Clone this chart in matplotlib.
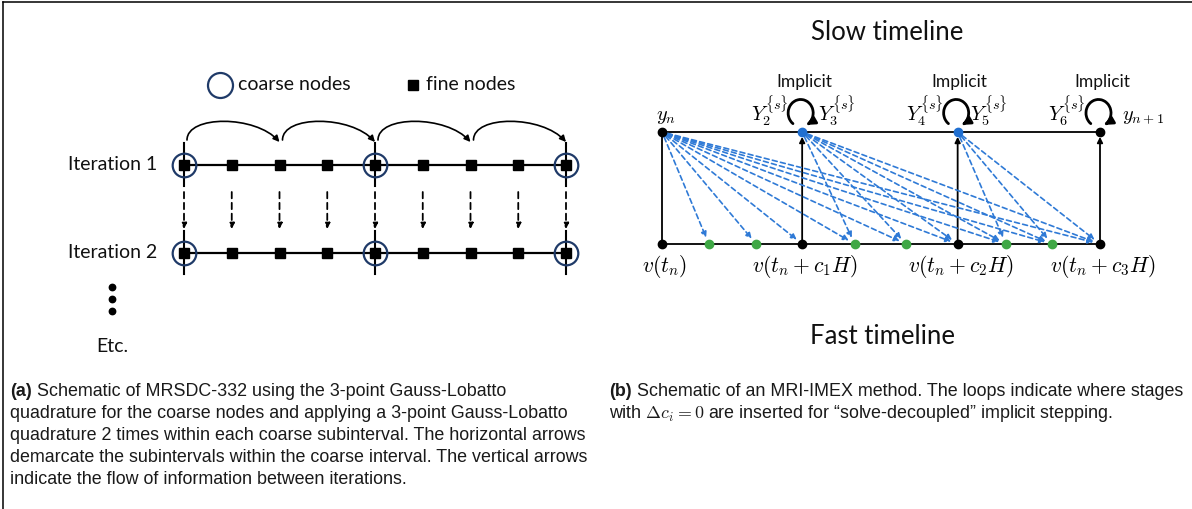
import matplotlib
matplotlib.use("Agg")
import matplotlib.pyplot as plt
from matplotlib.patches import FancyArrowPatch
from matplotlib.path import Path
from matplotlib.transforms import Affine2D, ScaledTranslation
from matplotlib.lines import Line2D

plt.rcParams["mathtext.fontset"] = "cm"

# ---------------- data ----------------
# Panel (a): MRSDC-332 (nodes on the normalised coarse interval)
fine_nodes = [0.0, 0.125, 0.25, 0.375, 0.5, 0.625, 0.75, 0.875, 1.0]
coarse_nodes = [0.0, 0.5, 1.0]
subinterval_bounds = [0.0, 0.25, 0.5, 0.75, 1.0]
iterations = [1, 2]
iteration_labels = ["Iteration 1", "Iteration 2"]
legend_labels = ["coarse nodes", "fine nodes"]

# Panel (b): MRI-IMEX (normalised slow step)
slow_nodes = [0.0, 0.32, 0.675, 1.0]
fast_nodes = [0.107, 0.215, 0.44, 0.557, 0.785, 0.89]
implicit_nodes = [0.32, 0.675, 1.0]
stage_left_labels = [r"$Y_2^{\{s\}}$", r"$Y_4^{\{s\}}$", r"$Y_6^{\{s\}}$"]
stage_right_labels = [r"$Y_3^{\{s\}}$", r"$Y_5^{\{s\}}$", r"$y_{n+1}$"]
bottom_labels = [r"$v(t_n)$", r"$v(t_n+c_1H)$", r"$v(t_n+c_2H)$", r"$v(t_n+c_3H)$"]

caption_a = ["Schematic of MRSDC-332 using the 3-point Gauss-Lobatto",
             "quadrature for the coarse nodes and applying a 3-point Gauss-Lobatto",
             "quadrature 2 times within each coarse subinterval. The horizontal arrows",
             "demarcate the subintervals within the coarse interval. The vertical arrows",
             "indicate the flow of information between iterations."]
caption_b = ["Schematic of an MRI-IMEX method. The loops indicate where stages",
             "with $\\Delta c_i = 0$ are inserted for \u201csolve-decoupled\u201d implicit stepping."]

# ---------------- styling ----------------
W, H = 1192, 509
SANS = ["Lato", "DejaVu Sans"]
CAP = ["Liberation Sans", "DejaVu Sans"]
NAVY = "#1f3a68"
BLUE_DOT = "#1f6fd1"
BLUE = "#2f7ad6"
GREEN = "#3fa845"
CAP_FS = 12.9

fig = plt.figure(figsize=(W / 100, H / 100), dpi=100)
fig.patch.set_facecolor("white")


def px_axes(x0, y0, x1, y1):
    return fig.add_axes([x0 / W, 1 - y1 / H, (x1 - x0) / W, (y1 - y0) / H])


def ftext(x, y, s, **kw):
    return fig.text(x / W, 1 - y / H, s, **kw)


# frame lines of the original figure
fig.add_artist(Line2D([3 / W, 1], [1 - 2 / H, 1 - 2 / H], transform=fig.transFigure, color="k", lw=1.1))
fig.add_artist(Line2D([3 / W, 3 / W], [0, 1 - 2 / H], transform=fig.transFigure, color="k", lw=1.1))

# ================= panel (a) =================
axL = px_axes(184, 165, 566, 253)
axL.set_xlim(0, 1)
axL.set_ylim(2, 1)
axL.axis("off")
px_x, px_y = 382.0, 88.0  # pixels per data unit

for it, lab in zip(iterations, iteration_labels):
    axL.plot([0, 1], [it, it], color="k", lw=1.6, zorder=2, clip_on=False)
    for c in coarse_nodes:
        axL.plot([c, c], [it - 22 / px_y, it + 21 / px_y], color="k", lw=1.5, zorder=2, clip_on=False)
    axL.plot(fine_nodes, [it] * len(fine_nodes), "s", ms=6.6, color="k", zorder=4, clip_on=False)
    axL.plot(coarse_nodes, [it] * len(coarse_nodes), "o", ms=17, mfc="none", mec=NAVY, mew=1.6,
             zorder=5, clip_on=False)
    axL.text(-27 / px_x, it, lab, ha="right", va="center", fontsize=14, family=SANS, color="#111")

# dashed vertical arrows between iterations
for x in fine_nodes:
    axL.add_patch(FancyArrowPatch((x, 1 + 27 / px_y), (x, 1 + 64 / px_y), arrowstyle="-|>",
                                  mutation_scale=8, lw=1.3, linestyle=(0, (3.5, 2.5)), color="k",
                                  shrinkA=0, shrinkB=0, clip_on=False))

# curved arrows marking subintervals
y0 = 1 - 25 / px_y
h = 25 / px_y
for a, b in zip(subinterval_bounds[:-1], subinterval_bounds[1:]):
    p = Path([(a + 3 / px_x, y0), (a + 3 / px_x, y0 - h), (b - 24 / px_x, y0 - h), (b, y0 + 2 / px_y)],
             [Path.MOVETO, Path.CURVE4, Path.CURVE4, Path.CURVE4])
    axL.add_patch(FancyArrowPatch(path=p, arrowstyle="-|>", mutation_scale=9, lw=1.2, color="k",
                                  transform=axL.transData, clip_on=False))

# legend
ly = 1 - 80 / px_y
axL.plot([36 / px_x], [ly], "o", ms=18, mfc="none", mec=NAVY, mew=1.6, clip_on=False)
axL.text(54 / px_x, ly, legend_labels[0], ha="left", va="center", fontsize=14, family=SANS, color="#111")
axL.plot([229 / px_x], [ly], "s", ms=6.6, color="k", clip_on=False)
axL.text(242 / px_x, ly, legend_labels[1], ha="left", va="center", fontsize=14, family=SANS, color="#111")

# vertical ellipsis and Etc.
axL.plot([-72 / px_x] * 3, [1 + 122 / px_y, 1 + 134 / px_y, 1 + 146 / px_y], "o", ms=4.6, color="k",
         clip_on=False)
axL.text(-72 / px_x, 1 + 182 / px_y, "Etc.", ha="center", va="center", fontsize=14, family=SANS,
         color="#111")

# ================= panel (b) =================
axR = px_axes(662, 132, 1100, 244)
axR.set_xlim(0, 1)
axR.set_ylim(0, 1)
axR.axis("off")
rx, ry = 438.0, 112.0

axR.plot([0, 1], [1, 1], color="k", lw=1.3, zorder=2, clip_on=False)
axR.plot([0, 1], [0, 0], color="k", lw=1.3, zorder=2, clip_on=False)
axR.plot([0, 0], [0, 1], color="k", lw=1.3, zorder=2, clip_on=False)
for c in slow_nodes[1:]:
    axR.add_patch(FancyArrowPatch((c, 0), (c, 1), arrowstyle="-|>", mutation_scale=8, lw=1.3,
                                  color="k", shrinkA=0, shrinkB=3.5, zorder=2, clip_on=False))

# blue dashed coupling arrows
targets = sorted(fast_nodes + slow_nodes[1:])
for s in slow_nodes[:-1]:
    for t in targets:
        if t > s + 1e-9:
            axR.add_patch(FancyArrowPatch((s, 1), (t, 0), arrowstyle="-|>", mutation_scale=8, lw=1.2,
                                          linestyle=(0, (3, 2)), color=BLUE, shrinkA=4, shrinkB=5,
                                          zorder=3, clip_on=False))

# nodes
top_colors = ["k", BLUE_DOT, BLUE_DOT, "k"]
for c, col in zip(slow_nodes, top_colors):
    axR.plot([c], [1], "o", ms=6, color=col, zorder=6, clip_on=False)
    axR.plot([c], [0], "o", ms=6, color="k", zorder=6, clip_on=False)
axR.plot(fast_nodes, [0] * len(fast_nodes), "o", ms=6, color=GREEN, zorder=6, clip_on=False)

# implicit loops
arc = Path.arc(-62, 232)
arc = Path(arc.vertices[::-1], arc.codes)
for c in implicit_nodes:
    tr = (Affine2D().scale(12.5 / 100, 13.5 / 100) + fig.dpi_scale_trans
          + ScaledTranslation(c - 1.5 / rx, 1 + 19 / ry, axR.transData))
    axR.add_patch(FancyArrowPatch(path=arc, arrowstyle="-|>", mutation_scale=12, lw=2.0, color="k",
                                  transform=tr, clip_on=False, zorder=7))
    axR.text(c + 2 / rx, 1 + 50 / ry, "Implicit", ha="center", va="center", fontsize=12.5, family=SANS,
             color="#111")

for c, lab in zip(implicit_nodes, stage_left_labels):
    axR.text(c - 14 / rx, 1 + 12 / ry, lab, ha="right", va="baseline", fontsize=14.5)
for c, lab, dx in zip(implicit_nodes, stage_right_labels, [16, 12, 22]):
    axR.text(c + dx / rx, 1 + 12 / ry, lab, ha="left", va="baseline", fontsize=14.5)
axR.text(slow_nodes[0] + 4 / rx, 1 + 12 / ry, r"$y_n$", ha="center", va="baseline", fontsize=14.5)

for c, lab in zip(slow_nodes, bottom_labels):
    axR.text(c + 3 / rx, -23 / ry, lab, ha="center", va="center", fontsize=15.5)

ftext(887, 33, "Slow timeline", ha="center", va="center", fontsize=18.5, family=SANS, color="#111")
ftext(883, 337, "Fast timeline", ha="center", va="center", fontsize=18.5, family=SANS, color="#111")

# ================= captions =================
line_y = [392, 414, 436, 457, 479]
CAPCOL = "#1a1a1a"


def caption(x, tag, lines):
    t = ftext(x, line_y[0], tag, ha="left", va="center", fontsize=CAP_FS, family=CAP, weight="bold",
              color=CAPCOL)
    fig.add_artist(plt.Annotation(" " + lines[0], xy=(1, 0), xycoords=t, ha="left", va="bottom",
                                  fontsize=CAP_FS, family=CAP, color=CAPCOL, math_fontfamily="cm"))
    for yy, ln in zip(line_y[1:], lines[1:]):
        ftext(x, yy, ln, ha="left", va="center", fontsize=CAP_FS, family=CAP, color=CAPCOL,
              math_fontfamily="cm")


caption(10, "(a)", caption_a)
caption(609, "(b)", caption_b)

fig.savefig("out.png", dpi=100, facecolor="white")
